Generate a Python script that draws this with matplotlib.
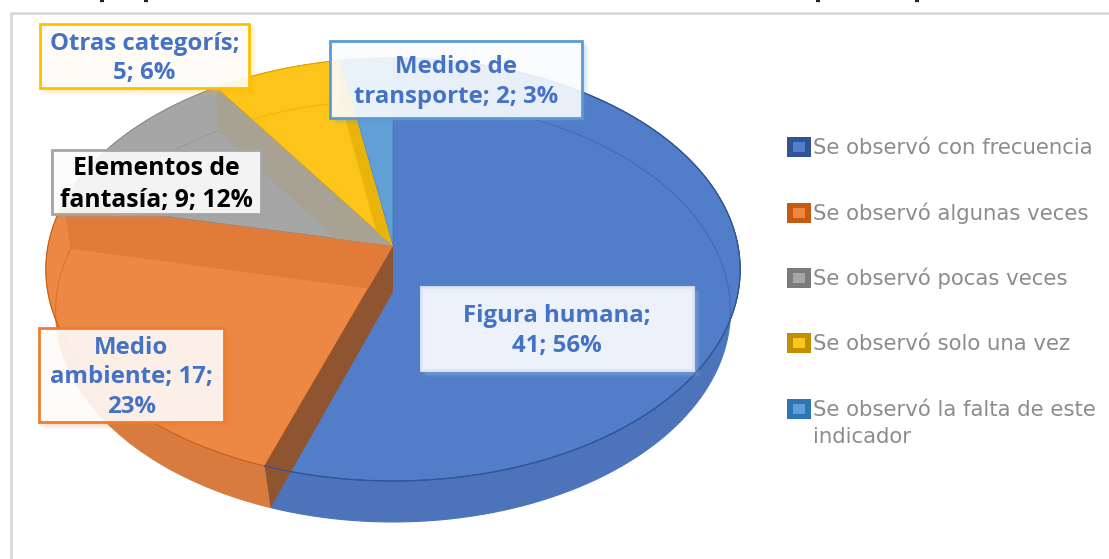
import numpy as np
import matplotlib
matplotlib.use('Agg')
import matplotlib.pyplot as plt
from matplotlib.patches import Polygon, Rectangle

# Data
categories = ['Figura humana', 'Medio ambiente', 'Elementos de fantasía', 'Otras categorís', 'Medios de transporte']
values = [41, 17, 9, 5, 2]
percents = [56, 23, 12, 6, 3]
legend_labels = ['Se observó con frecuencia', 'Se observó algunas veces', 'Se observó pocas veces',
                 'Se observó solo una vez', 'Se observó la falta de este\nindicador']

# Styles
top_colors = ['#527dc8', '#ed8744', '#a6a6a6', '#fdc51a', '#629fd6']
side_colors = ['#4d74bb', '#d87b3e', '#969696', '#e0ac10', '#4f8cc4']
edge_colors = ['#2f5597', '#c55a11', '#8a8a8a', '#d9a300', '#4a86c0']
wall_colors = ['#8f5530', '#e07b39', '#a8a294', '#e8b40c', '#629fd6']
swatch_dark = ['#2f5597', '#c55a11', '#7b7b7b', '#bf9000', '#2e75b6']
box_edges = ['#dce6f4', '#ed7d31', '#a5a5a5', '#ffc000', '#5b9bd5']
text_colors = ['#4472c4', '#4472c4', '#000000', '#4472c4', '#4472c4']
label_text = ['Figura humana;\n41; 56%', 'Medio\nambiente; 17;\n23%', 'Elementos de\nfantasía; 9; 12%',
              'Otras categorís;\n5; 6%', 'Medios de\ntransporte; 2; 3%']
label_boxes = [(421, 287, 693, 370), (39, 328, 224, 422), (52, 150, 261, 214),
               (40, 24, 249, 88), (330, 41, 582, 118)]
label_sizes = [17.3, 17.3, 17.8, 17.3, 17.3]


# Perspective view of the disc, top face and bottom face
def project(angle, radius, face):
    cx = 393
    if face == 'top':
        R, a, b, c = 345, 181.6, 246, -0.111
    else:
        R, a, b, c = 336, 183, 292, -0.09
    u = radius * np.sin(angle)
    v = -radius * np.cos(angle)
    w = 1 + c * v
    return np.column_stack([cx + R * u / w, (a * v + b) / w])


fig = plt.figure(figsize=(11.09, 5.59), dpi=100)
ax = fig.add_axes([0, 0, 1, 1])
ax.set_xlim(0, 1109)
ax.set_ylim(559, 0)
ax.axis('off')

# chart frame
ax.plot([11, 11, 1109], [559, 13, 13], color='#d9d9d9', lw=2, zorder=1)

# descenders of the cropped line of text above the chart
for x in [102, 146, 818, 917]:
    ax.plot([x - 2, x + 2], [0.8, 0.8], color='#222222', lw=1.6, solid_capstyle='butt', zorder=1)

edges = np.cumsum([0] + values) / sum(values) * 2 * np.pi

# side walls first
for i in range(len(values)):
    t = np.linspace(edges[i], edges[i + 1], 120)
    strip = np.vstack([project(t, np.ones_like(t), 'top'), project(t[::-1], np.ones_like(t), 'bottom')])
    ax.add_patch(Polygon(strip, closed=True, fc=side_colors[i], ec=side_colors[i], lw=0.8, zorder=2))

# top faces, then the cut wall seen through each one
for i in range(len(values)):
    t = np.linspace(edges[i], edges[i + 1], 120)
    face = np.vstack([project(t, np.ones_like(t), 'top'), project(np.array([0.0]), np.array([0.0]), 'top')])
    patch = Polygon(face, closed=True, fc=top_colors[i], ec=edge_colors[i], lw=0.7, zorder=3)
    ax.add_patch(patch)

    e = np.array([edges[i + 1]] * 2)
    r = np.array([1.0, 0.0])
    wall = np.vstack([project(e, r, 'top'), project(e[::-1], r[::-1], 'bottom')])
    band = Polygon(wall, closed=True, fc=wall_colors[i], ec='none', zorder=4)
    ax.add_patch(band)
    # the front cut hangs over the side wall, the others stay inside their slice
    if i != 0:
        band.set_clip_path(patch)

    # rim of the bottom face
    rim = project(t, np.ones_like(t), 'bottom')
    line, = ax.plot(rim[:, 0], rim[:, 1], color=edge_colors[i], lw=0.7, alpha=0.5, zorder=5)
    line.set_clip_path(patch)

# blue rim is darker at the front
t = np.linspace(edges[0], edges[1], 120)
front = project(t, np.ones_like(t), 'top')
ax.plot(front[:, 0], front[:, 1], color=edge_colors[0], lw=0.9, zorder=5)

# data labels
for i in range(len(values)):
    x0, y0, x1, y1 = label_boxes[i]
    for k in range(1, 6):
        ax.add_patch(Rectangle((x0 + k, y0 + k), x1 - x0 + 2, y1 - y0 + 2, fc=box_edges[i], ec='none',
                               alpha=0.05, zorder=6))
    ax.add_patch(Rectangle((x0, y0), x1 - x0, y1 - y0, fc='white', ec='none', alpha=0.88, zorder=7))
    ax.add_patch(Rectangle((x0, y0), x1 - x0, y1 - y0, fc='none', ec=box_edges[i], lw=2, zorder=8))
    ax.text((x0 + x1) / 2, (y0 + y1) / 2 + 2.5, label_text[i], color=text_colors[i], ha='center', va='center',
            family='Open Sans', fontweight='bold', fontsize=label_sizes[i], linespacing=1.32, zorder=9)

# legend
legend_y = [147, 213, 278, 343, 409]
for i, lab in enumerate(legend_labels):
    ax.add_patch(Rectangle((787, legend_y[i] - 10), 24, 20, fc=swatch_dark[i], ec='none', zorder=3))
    ax.add_patch(Rectangle((793, legend_y[i] - 5), 12, 10, fc=top_colors[i], ec='none', zorder=4))
    for j, part in enumerate(lab.split('\n')):
        ax.text(813, legend_y[i] + 7 + j * 27, part, color='#8c8c8c', ha='left', va='baseline',
                family='DejaVu Sans', fontsize=15.3, zorder=5)

fig.savefig('out.png', dpi=100)
